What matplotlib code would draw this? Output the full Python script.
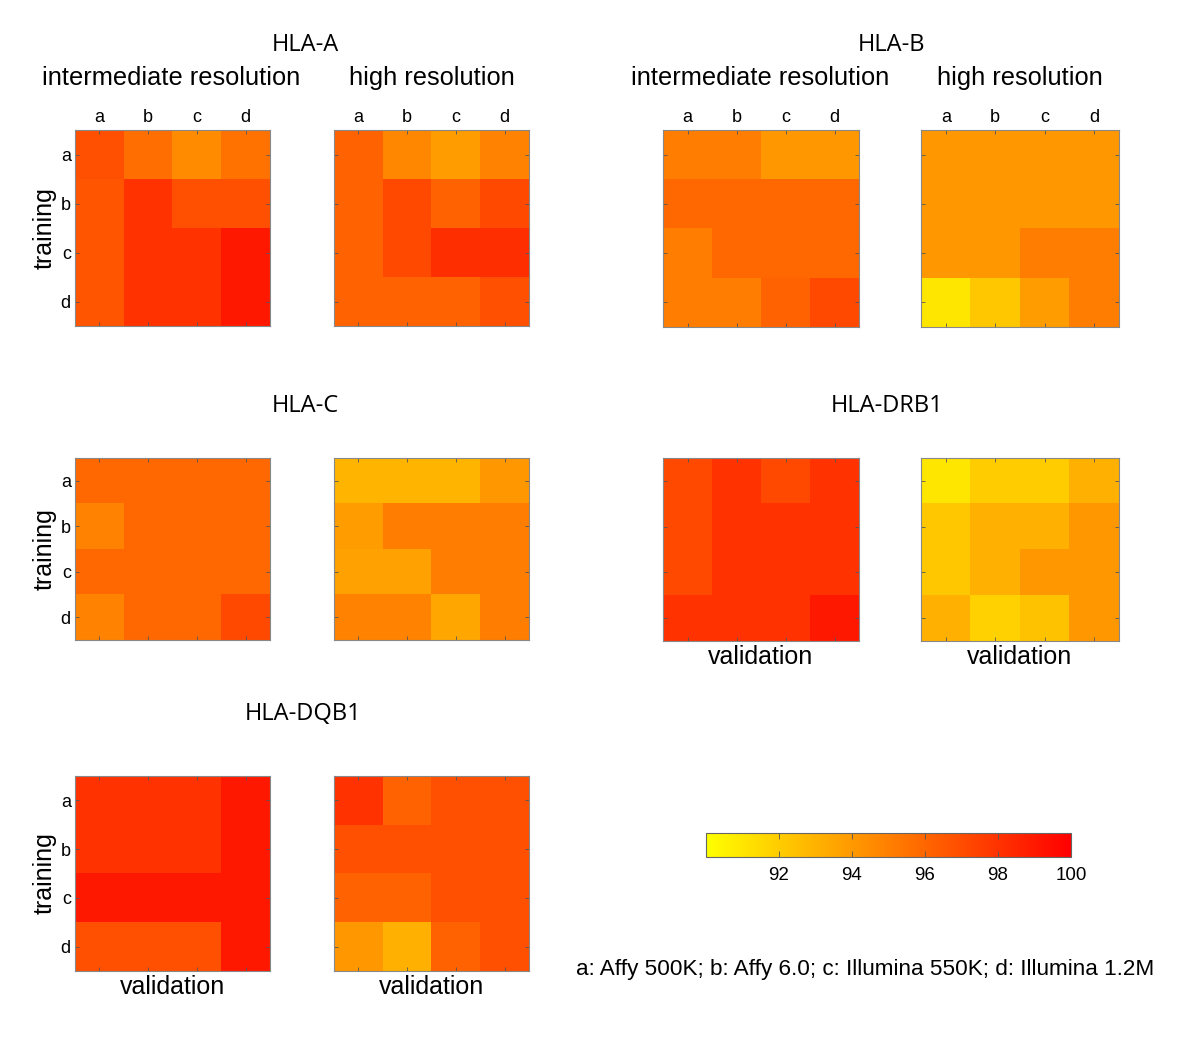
import numpy as np
import matplotlib
matplotlib.use("Agg")
import matplotlib.pyplot as plt

labels = ["a", "b", "c", "d"]

hla_a_int = [[96.9, 95.7, 94.5, 95.5],
             [96.7, 98.0, 96.9, 96.9],
             [96.7, 98.0, 98.0, 99.0],
             [96.7, 98.0, 98.0, 99.0]]
hla_a_high = [[96.1, 94.7, 93.9, 94.9],
              [96.1, 97.1, 96.1, 97.1],
              [96.1, 97.1, 98.2, 98.2],
              [96.1, 96.1, 96.1, 96.9]]
hla_b_int = [[95.1, 95.1, 94.1, 94.1],
             [95.9, 95.9, 95.9, 95.9],
             [95.1, 95.9, 95.9, 95.9],
             [95.1, 95.1, 96.1, 97.1]]
hla_b_high = [[94.1, 94.1, 94.1, 94.1],
              [94.1, 94.1, 94.1, 94.1],
              [94.1, 94.1, 95.1, 95.1],
              [91.0, 92.2, 93.9, 95.1]]
hla_c_int = [[95.9, 95.9, 95.9, 95.9],
             [94.9, 95.9, 95.9, 95.9],
             [95.9, 95.9, 95.9, 95.9],
             [94.9, 95.9, 95.9, 97.1]]
hla_c_high = [[92.9, 92.9, 92.9, 94.1],
              [93.9, 95.1, 95.1, 95.1],
              [93.7, 93.7, 95.1, 95.1],
              [94.9, 94.9, 93.5, 95.1]]
hla_drb1_int = [[97.1, 98.0, 97.1, 98.0],
                [97.1, 98.0, 98.0, 98.0],
                [97.1, 98.0, 98.0, 98.0],
                [98.0, 98.0, 98.0, 99.0]]
hla_drb1_high = [[91.0, 92.0, 92.0, 93.1],
                 [92.2, 93.1, 93.1, 94.1],
                 [92.2, 93.1, 94.1, 94.1],
                 [93.1, 91.8, 92.4, 94.1]]
hla_dqb1_int = [[98.0, 98.0, 98.0, 99.0],
                [98.0, 98.0, 98.0, 99.0],
                [99.0, 99.0, 99.0, 99.0],
                [96.9, 96.9, 96.9, 99.0]]
hla_dqb1_high = [[98.0, 96.1, 96.9, 96.9],
                 [96.9, 96.9, 96.9, 96.9],
                 [96.1, 96.1, 96.9, 96.9],
                 [94.1, 93.1, 96.1, 96.9]]

cbar_ticks = [92, 94, 96, 98, 100]
VMIN, VMAX = 90, 100

W, H = 1200, 1060
fig = plt.figure(figsize=(W / 100, H / 100), dpi=100)
SANS = ["Liberation Sans", "DejaVu Sans"]
TITLE = ["Open Sans", "DejaVu Sans"]


def px_axes(x0, y0, x1, y1):
    return fig.add_axes([x0 / W, 1 - y1 / H, (x1 - x0) / W, (y1 - y0) / H])


def heat(data, box, top=False, left=False, xlabel=False):
    ax = px_axes(*box)
    im = ax.imshow(np.array(data), cmap="autumn_r", vmin=VMIN, vmax=VMAX,
                   aspect="auto", interpolation="nearest")
    ax.set_xticks(range(4))
    ax.set_yticks(range(4))
    ax.tick_params(direction="in", length=3, width=0.6, color="#555555",
                   top=True, bottom=True, left=True, right=True,
                   labeltop=top, labelbottom=False, labelleft=left,
                   labelsize=13, pad=3)
    ax.set_xticklabels(labels, family=SANS)
    ax.set_yticklabels(labels, family=SANS)
    for s in ax.spines.values():
        s.set_color("#888888")
        s.set_linewidth(0.8)
    if left:
        ax.set_ylabel("training", fontsize=18, family=SANS, labelpad=3)
    if xlabel:
        ax.set_xlabel("validation", fontsize=18, family=SANS, labelpad=3)
    return im


heat(hla_a_int, (75, 130, 270, 326), top=True, left=True)
heat(hla_a_high, (334, 130, 529, 326), top=True)
heat(hla_b_int, (663, 130, 859, 327), top=True)
heat(hla_b_high, (921, 130, 1119, 327), top=True)
heat(hla_c_int, (75, 458, 270, 640), left=True)
heat(hla_c_high, (334, 458, 529, 640))
heat(hla_drb1_int, (663, 458, 859, 641), xlabel=True)
heat(hla_drb1_high, (921, 458, 1119, 641), xlabel=True)
heat(hla_dqb1_int, (75, 776, 270, 971), left=True, xlabel=True)
im = heat(hla_dqb1_high, (334, 776, 529, 971), xlabel=True)


def ftext(x, y, s, size, fam, ha="center"):
    fig.text(x / W, 1 - y / H, s, fontsize=size, family=fam, ha=ha, va="center")


ftext(305, 45, "HLA-A", 17, TITLE)
ftext(892, 45, "HLA-B", 17, TITLE)
ftext(305, 406, "HLA-C", 17, TITLE)
ftext(887, 406, "HLA-DRB1", 17, TITLE)
ftext(303, 714, "HLA-DQB1", 17, TITLE)

ftext(171, 78, "intermediate resolution", 18.3, SANS)
ftext(432, 78, "high resolution", 18.3, SANS)
ftext(760, 78, "intermediate resolution", 18.3, SANS)
ftext(1020, 78, "high resolution", 18.3, SANS)

ftext(865, 969, "a: Affy 500K; b: Affy 6.0; c: Illumina 550K; d: Illumina 1.2M", 16.2, SANS)

cax = px_axes(706, 833, 1071, 857)
cb = fig.colorbar(im, cax=cax, orientation="horizontal", ticks=cbar_ticks)
cb.outline.set_edgecolor("#666666")
cb.outline.set_linewidth(0.8)
cax.tick_params(direction="in", length=4, width=0.6, color="#555555",
                top=True, bottom=True, labelsize=13.5, pad=7)
for t in cax.get_xticklabels():
    t.set_family(SANS)

fig.savefig("out.png", dpi=100, facecolor="white")
